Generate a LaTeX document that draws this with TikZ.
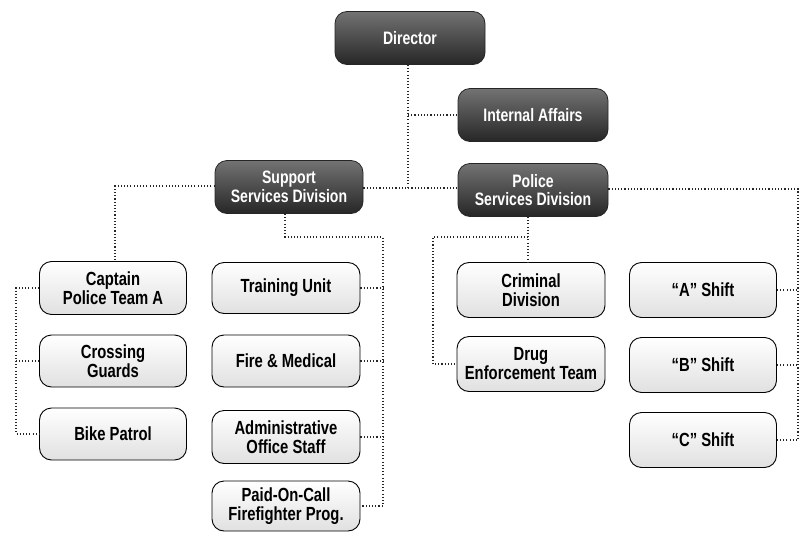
\documentclass[tikz,border=0pt]{standalone}
\usepackage{fontspec}
\newfontfamily\boxfont[FakeStretch=0.78]{Liberation Sans}
\begin{document}
\begin{tikzpicture}[x=1pt,y=-1pt,
  darkbox/.style={rounded corners=12pt, draw=black!85, line width=0.8pt,
    top color=black!55, bottom color=black!85, text=white,
    minimum width=150pt, minimum height=53pt, align=center,
    font=\boxfont\bfseries\fontsize{18}{18.5}\selectfont, inner sep=2pt},
  lightbox/.style={rounded corners=12pt, draw=black, line width=0.9pt,
    top color=white, bottom color=black!12, text=black,
    minimum width=148pt, minimum height=53pt, align=center,
    font=\boxfont\bfseries\fontsize{19}{19}\selectfont, inner sep=2pt},
  conn/.style={draw=black!85, line width=1.3pt, dash pattern=on 1.1pt off 2.1pt}
]
\useasboundingbox (0,0) rectangle (801,533);
% dark boxes
\node[darkbox] (dir) at (410,38) {Director};
\node[darkbox] (ia) at (533,115) {Internal Affairs};
\node[darkbox, minimum width=148pt] (ssd) at (289,187) {Support\\Services Division};
\node[darkbox] (psd) at (533,190) {Police\\Services Division};
% support children
\node[lightbox, minimum width=147pt] (cap) at (113,288) {Captain\\Police Team A};
\node[lightbox, minimum width=147pt, minimum height=52pt] (cg) at (113,361) {Crossing\\Guards};
\node[lightbox, minimum width=147pt, minimum height=52pt] (bp) at (113,434) {Bike Patrol};
\node[lightbox, minimum height=51pt] (tu) at (286,288) {Training Unit};
\node[lightbox, minimum height=52pt] (fm) at (286,361) {Fire \& Medical};
\node[lightbox] (aos) at (286,437) {Administrative\\Office Staff};
\node[lightbox, minimum height=50pt] (poc) at (286,506) {Paid-On-Call\\Firefighter Prog.};
% police children
\node[lightbox, minimum height=55pt] (cd) at (531,290) {Criminal\\Division};
\node[lightbox, minimum height=55pt] (det) at (531,364) {Drug\\Enforcement Team};
\node[lightbox, minimum width=147pt, minimum height=55pt] (as) at (703,290) {“A” Shift};
\node[lightbox, minimum width=147pt, minimum height=55pt] (bs) at (703,365) {“B” Shift};
\node[lightbox, minimum width=147pt, minimum height=55pt] (cs) at (703,440) {“C” Shift};
% junction coordinates
\coordinate (j0) at (408,188);
\coordinate (jL) at (115,186);
\coordinate (jS1) at (285,237);
\coordinate (jS2) at (383,237);
\coordinate (jS3) at (383,506);
\coordinate (jC1) at (16,288);
\coordinate (jC2) at (16,434);
\coordinate (jP1) at (528,237);
\coordinate (jP2) at (433,237);
\coordinate (jP3) at (433,364);
\coordinate (jR1) at (798,189);
\coordinate (jR2) at (798,440);
% connectors
\draw[conn] (dir.south -| j0) -- (j0);
\draw[conn] (ia.west -| j0) -- (ia.west);
\draw[conn] (ssd.east |- j0) -- (psd.west |- j0);
\draw[conn] (ssd.west |- jL) -- (jL) -- (cap.north -| jL);
\draw[conn] (ssd.south -| jS1) -- (jS1) -- (jS2) -- (jS3) -- (poc.east);
\draw[conn] (tu.east) -- (tu.east -| jS2);
\draw[conn] (fm.east) -- (fm.east -| jS2);
\draw[conn] (aos.east) -- (aos.east -| jS2);
\draw[conn] (cap.west) -- (jC1) -- (jC2) -- (bp.west);
\draw[conn] (cg.west) -- (cg.west -| jC1);
\draw[conn] (psd.south -| jP1) -- (cd.north -| jP1);
\draw[conn] (jP1) -- (jP2) -- (jP3) -- (det.west);
\draw[conn] (psd.east |- jR1) -- (jR1) -- (jR2) -- (cs.east);
\draw[conn] (as.east) -- (as.east -| jR1);
\draw[conn] (bs.east) -- (bs.east -| jR1);
\end{tikzpicture}
\end{document}
